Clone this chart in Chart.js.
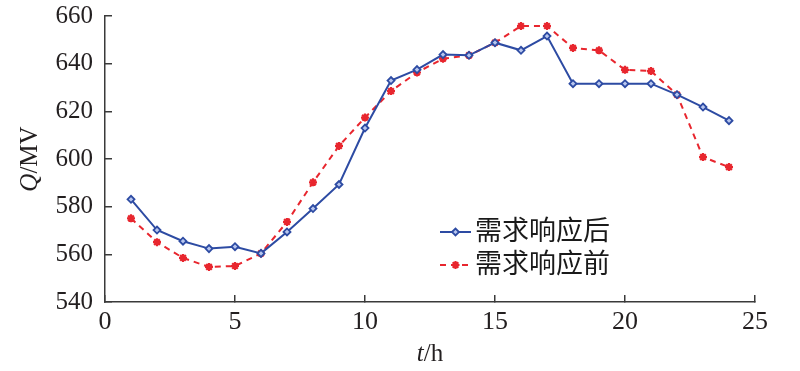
<!DOCTYPE html>
<html>
<head>
<meta charset="utf-8">
<script src="https://cdn.jsdelivr.net/npm/chart.js@4/dist/chart.umd.min.js"></script>
<style>
  html, body { margin: 0; padding: 0; background: #fff; }
</style>
</head>
<body>
<canvas id="chart" width="800" height="371"></canvas>
<script>
const hours = [1, 2, 3, 4, 5, 6, 7, 8, 9, 10, 11, 12, 13, 14, 15, 16, 17, 18, 19, 20, 21, 22, 23, 24];
const afterDR = [583.1, 570.2, 565.5, 562.4, 563.2, 560.4, 569.4, 579.2, 589.3, 613.0, 632.9, 637.5,
                 643.8, 643.5, 648.8, 645.6, 651.6, 631.6, 631.6, 631.6, 631.6, 627.0, 621.8, 616.1];
const beforeDR = [575.1, 565.1, 558.5, 554.7, 555.1, 560.4, 573.6, 590.2, 605.5, 617.4, 628.5, 636.3,
                  642.1, 643.5, 648.8, 655.8, 655.8, 646.6, 645.6, 637.4, 636.9, 627.0, 600.8, 596.6];
const seriesNames = ['需求响应后', '需求响应前'];
const xTicks = [0, 5, 10, 15, 20, 25];
const yTicks = [540, 560, 580, 600, 620, 640, 660];

const ink = '#231f20';
const serif = '"Liberation Serif", "Times New Roman", serif';

// draw a string made of pieces in different fonts, centred on x
function drawMixed(ctx, parts, x, y) {
  let total = 0;
  parts.forEach(p => { ctx.font = p[0]; total += ctx.measureText(p[1]).width; });
  let cx = x - total / 2;
  parts.forEach(p => {
    ctx.font = p[0];
    ctx.fillText(p[1], cx, y);
    cx += ctx.measureText(p[1]).width;
  });
}

const extras = {
  id: 'extras',
  afterDraw(chart) {
    const { ctx, chartArea: a } = chart;
    ctx.save();
    ctx.fillStyle = ink;
    ctx.textAlign = 'left';
    ctx.textBaseline = 'middle';

    // axis titles
    drawMixed(ctx, [['italic 25px ' + serif, 't'], ['25px ' + serif, '/h']], (a.left + a.right) / 2, 354);
    ctx.save();
    ctx.translate(30, (a.top + a.bottom) / 2);
    ctx.rotate(-Math.PI / 2);
    drawMixed(ctx, [['italic 25px ' + serif, 'Q'], ['25px ' + serif, '/MV']], 0, 0);
    ctx.restore();

    // legend
    chart.data.datasets.forEach((ds, i) => {
      const y = 232 + i * 33;
      ctx.strokeStyle = ds.borderColor;
      ctx.lineWidth = ds.borderWidth;
      ctx.setLineDash(ds.borderDash || []);
      ctx.beginPath();
      ctx.moveTo(440, y);
      ctx.lineTo(471, y);
      ctx.stroke();
      ctx.setLineDash([]);
      ctx.fillStyle = ds.pointBackgroundColor;
      ctx.strokeStyle = ds.borderColor;
      ctx.lineWidth = ds.pointBorderWidth;
      Chart.helpers.drawPoint(ctx, { pointStyle: ds.pointStyle, radius: ds.pointRadius, borderWidth: ds.pointBorderWidth }, 455.5, y);
      ctx.fillStyle = '#1a1a1a';
      ctx.font = '27px "Noto Sans CJK SC"';
      ctx.fillText(ds.label, 475, y - 2);
    });
    ctx.restore();
  }
};

const axisColor = '#3a3a3a';

new Chart(document.getElementById('chart'), {
  type: 'line',
  data: {
    datasets: [
      {
        label: seriesNames[0],
        data: hours.map((h, i) => ({ x: h, y: afterDR[i] })),
        borderColor: '#2d4ba3',
        borderWidth: 2,
        pointStyle: 'rectRot',
        pointRadius: 3.5,
        pointBorderWidth: 1.8,
        pointBackgroundColor: '#b8c6ee',
        tension: 0
      },
      {
        label: seriesNames[1],
        data: hours.map((h, i) => ({ x: h, y: beforeDR[i] })),
        borderColor: '#e8262e',
        borderWidth: 2,
        borderDash: [6, 5],
        pointStyle: 'star',
        pointRadius: 4,
        pointBorderWidth: 2.2,
        pointBackgroundColor: '#e8262e',
        tension: 0
      }
    ]
  },
  options: {
    responsive: false,
    animation: false,
    devicePixelRatio: 1,
    layout: { padding: { left: 0, top: 16, right: 45, bottom: 0 } },
    plugins: { legend: { display: false }, tooltip: { enabled: false } },
    scales: {
      x: {
        type: 'linear',
        min: xTicks[0],
        max: xTicks[xTicks.length - 1],
        afterBuildTicks: s => { s.ticks = xTicks.map(value => ({ value })); },
        afterFit: s => { s.height = 69; s.paddingLeft = 0; s.paddingRight = 0; },
        grid: { drawOnChartArea: false, tickLength: -7, color: axisColor, lineWidth: 1.5 },
        border: { color: axisColor, width: 1.5 },
        ticks: { padding: 12, color: ink, font: { family: serif, size: 26 } }
      },
      y: {
        min: yTicks[0],
        max: yTicks[yTicks.length - 1],
        afterBuildTicks: s => { s.ticks = yTicks.map(value => ({ value })); },
        afterFit: s => { s.width = 105; s.paddingTop = 0; s.paddingBottom = 0; },
        grid: { drawOnChartArea: false, tickLength: -7, color: axisColor, lineWidth: 1.5 },
        border: { color: axisColor, width: 1.5 },
        ticks: { padding: 19, color: ink, font: { family: serif, size: 25 } }
      }
    }
  },
  plugins: [extras]
});
</script>
</body>
</html>
